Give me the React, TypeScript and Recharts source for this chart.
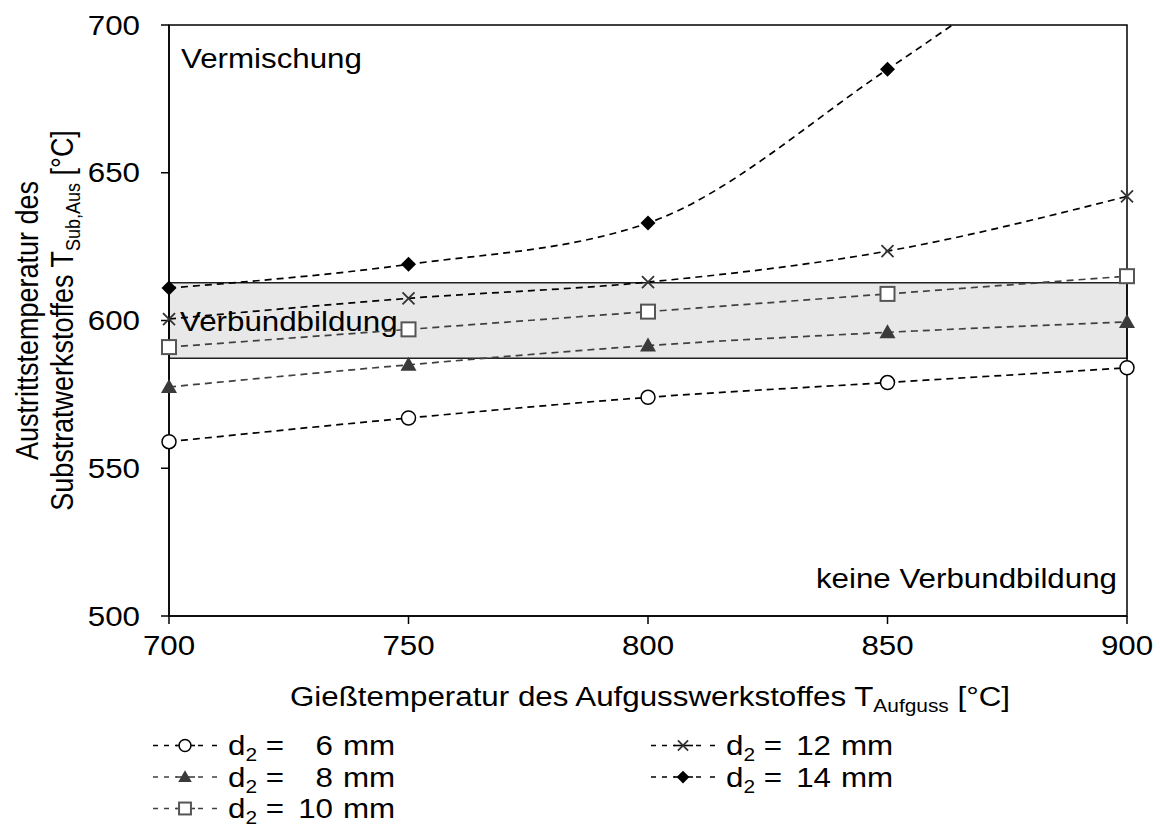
import React from "react";
import { LineChart, Line, XAxis, YAxis, ReferenceArea, Label } from "recharts";

// Gießtemperatur [°C]
const temperatures = [700, 750, 800, 850, 900];

// Austrittstemperatur des Substrats [°C] je Durchmesser d2
const d6 = [559, 567, 574, 579, 584];
const d8 = [577.5, 585, 591.5, 596, 599.5];
const d10 = [591, 597, 603, 609, 615];
const d12 = [600.5, 607.5, 613, 623.5, 642];
const d14 = [611, 619, 633, 685, 742];

// Verbundbildungsfenster
const bondLow = 587.2;
const bondHigh = 612.8;

const xTicks = [700, 750, 800, 850, 900];
const yTicks = [500, 550, 600, 650, 700];
const yMax = 700;

const legendValues = ["6", "8", "10", "12", "14"];

const FONT = "'Liberation Sans', Arial, sans-serif";
const FS = 27;
// Schrift leicht in die Breite gezogen
const SX = 1.16;

type Shape = "circle" | "triangle" | "square" | "cross" | "diamond";

const series: { key: string; values: number[]; shape: Shape; color: string; label: string }[] = [
  { key: "d6", values: d6, shape: "circle", color: "#000", label: legendValues[0] },
  { key: "d8", values: d8, shape: "triangle", color: "#404040", label: legendValues[1] },
  { key: "d10", values: d10, shape: "square", color: "#404040", label: legendValues[2] },
  { key: "d12", values: d12, shape: "cross", color: "#000", label: legendValues[3] },
  { key: "d14", values: d14, shape: "diamond", color: "#000", label: legendValues[4] },
];

const data = temperatures.map((t, i) => {
  const row: Record<string, number> = { t };
  series.forEach((s) => (row[s.key] = s.values[i]));
  return row;
});

function SText({
  x,
  y,
  anchor = "start",
  rotate = false,
  children,
}: {
  x: number;
  y: number;
  anchor?: "start" | "middle" | "end";
  rotate?: boolean;
  children: React.ReactNode;
}) {
  return (
    <text
      x={0}
      y={0}
      transform={`translate(${x},${y}) scale(${SX},1)${rotate ? " rotate(-90)" : ""}`}
      textAnchor={anchor}
      fontSize={FS}
      fontFamily={FONT}
      fill="#000"
    >
      {children}
    </text>
  );
}

function Marker({ cx, cy, shape, s = 1 }: { cx: number; cy: number; shape: Shape; s?: number }) {
  switch (shape) {
    case "circle":
      return <circle cx={cx} cy={cy} r={7 * s} fill="#fff" stroke="#000" strokeWidth={1.5} />;
    case "triangle":
      return (
        <path
          d={`M${cx},${cy - 8 * s} L${cx + 8 * s},${cy + 6 * s} L${cx - 8 * s},${cy + 6 * s} Z`}
          fill="#3a3a3a"
        />
      );
    case "square":
      return (
        <rect x={cx - 7 * s} y={cy - 7 * s} width={14 * s} height={14 * s} fill="#fff" stroke="#555" strokeWidth={2} />
      );
    case "cross":
      return (
        <path
          d={`M${cx - 6 * s},${cy - 6 * s} L${cx + 6 * s},${cy + 6 * s} M${cx + 6 * s},${cy - 6 * s} L${cx - 6 * s},${cy + 6 * s}`}
          stroke="#333"
          strokeWidth={1.8}
        />
      );
    case "diamond":
      return (
        <path
          d={`M${cx},${cy - 7.5 * s} L${cx + 7.5 * s},${cy} L${cx},${cy + 7.5 * s} L${cx - 7.5 * s},${cy} Z`}
          fill="#000"
        />
      );
  }
}

const XTick = (p: any) => (
  <SText x={p.x} y={p.y + 21} anchor="middle">
    {p.payload.value}
  </SText>
);

const YTick = (p: any) => (
  <SText x={p.x} y={p.y + 9.5} anchor="end">
    {p.payload.value}
  </SText>
);

const XLabel = ({ viewBox }: any) => (
  <SText x={viewBox.x + viewBox.width / 2 + 2} y={viewBox.y + 90} anchor="middle">
    Gießtemperatur des Aufgusswerkstoffes T
    <tspan fontSize={18} dy={6}>Aufguss</tspan>
    <tspan dy={-6}> [°C]</tspan>
  </SText>
);

const YLabel = ({ viewBox }: any) => {
  const cy = viewBox.y + viewBox.height / 2;
  return (
    <g>
      <SText x={38} y={cy} anchor="middle" rotate>
        Austrittstemperatur des
      </SText>
      <SText x={73} y={cy} anchor="middle" rotate>
        Substratwerkstoffes T
        <tspan fontSize={18} dy={6}>Sub,Aus</tspan>
        <tspan dy={-6}> [°C]</tspan>
      </SText>
    </g>
  );
};

function Legend() {
  const rows = [
    { s: series[0], x: 0, y: 755 },
    { s: series[1], x: 0, y: 786.5 },
    { s: series[2], x: 0, y: 818 },
    { s: series[3], x: 498, y: 755 },
    { s: series[4], x: 498, y: 786.5 },
  ];
  return (
    <svg width={1160} height={827} style={{ position: "absolute", left: 0, top: 0, pointerEvents: "none" }}>
      {rows.map(({ s, x, y }) => {
        const my = y - 9.5;
        return (
          <g key={s.key}>
            <line x1={153 + x} x2={177 + x} y1={my} y2={my} stroke={s.color} strokeWidth={1.6} strokeDasharray="5 6" />
            <line x1={195 + x} x2={219 + x} y1={my} y2={my} stroke={s.color} strokeWidth={1.6} strokeDasharray="0 3 5 6" />
            <line x1={176 + x} x2={195 + x} y1={my} y2={my} stroke={s.color} strokeWidth={1.6} />
            <Marker cx={185 + x} cy={my} shape={s.shape} s={0.85} />
            <SText x={228 + x} y={y}>
              d<tspan fontSize={18} dy={6}>2</tspan>
              <tspan dy={-6}> =</tspan>
            </SText>
            <SText x={333 + x} y={y} anchor="end">
              {s.label}
            </SText>
            <SText x={343 + x} y={y}>
              mm
            </SText>
          </g>
        );
      })}
    </svg>
  );
}

export default function App() {
  return (
    <div style={{ position: "absolute", left: 0, top: 0, width: 1160, height: 827, background: "#fff" }}>
      <LineChart width={1160} height={827} data={data} margin={{ top: 25, right: 33, bottom: 127, left: 0 }}>
        <ReferenceArea
          x1={700}
          x2={900}
          y1={bondLow}
          y2={bondHigh}
          fill="#e8e8e8"
          fillOpacity={1}
          stroke="#222"
          strokeWidth={1.5}
        >
          <Label
            content={({ viewBox }: any) => (
              <SText x={viewBox.x + 11} y={viewBox.y + viewBox.height / 2 + 10}>
                Verbundbildung
              </SText>
            )}
          />
        </ReferenceArea>
        <XAxis
          dataKey="t"
          type="number"
          domain={[700, 900]}
          ticks={xTicks}
          height={84}
          tickSize={8}
          tickMargin={10}
          axisLine={{ stroke: "#000", strokeWidth: 1.5 }}
          tickLine={{ stroke: "#000", strokeWidth: 1.5 }}
          tick={XTick}
        >
          <Label content={XLabel} />
        </XAxis>
        <YAxis
          type="number"
          domain={[500, yMax]}
          ticks={yTicks}
          allowDataOverflow
          width={169}
          tickSize={8}
          tickMargin={21}
          axisLine={{ stroke: "#000", strokeWidth: 1.5 }}
          tickLine={{ stroke: "#000", strokeWidth: 1.5 }}
          tick={YTick}
        >
          <Label content={YLabel} />
        </YAxis>
        {series.map((s) => (
          <Line
            key={s.key}
            dataKey={s.key}
            type="monotone"
            stroke={s.color}
            strokeWidth={1.7}
            strokeDasharray="7 5"
            isAnimationActive={false}
            activeDot={false}
            dot={(p: any) =>
              p.value > yMax ? (
                <g key={`${s.key}-${p.index}`} />
              ) : (
                <Marker key={`${s.key}-${p.index}`} cx={p.cx} cy={p.cy} shape={s.shape} />
              )
            }
          />
        ))}
        <ReferenceArea x1={700} x2={900} y1={500} y2={700} fill="none" stroke="#000" strokeWidth={1.5}>
          <Label
            content={({ viewBox }: any) => (
              <g>
                <SText x={viewBox.x + 12} y={viewBox.y + 43}>
                  Vermischung
                </SText>
                <SText x={viewBox.x + viewBox.width - 10} y={viewBox.y + viewBox.height - 28} anchor="end">
                  keine Verbundbildung
                </SText>
              </g>
            )}
          />
        </ReferenceArea>
      </LineChart>
      <Legend />
    </div>
  );
}
